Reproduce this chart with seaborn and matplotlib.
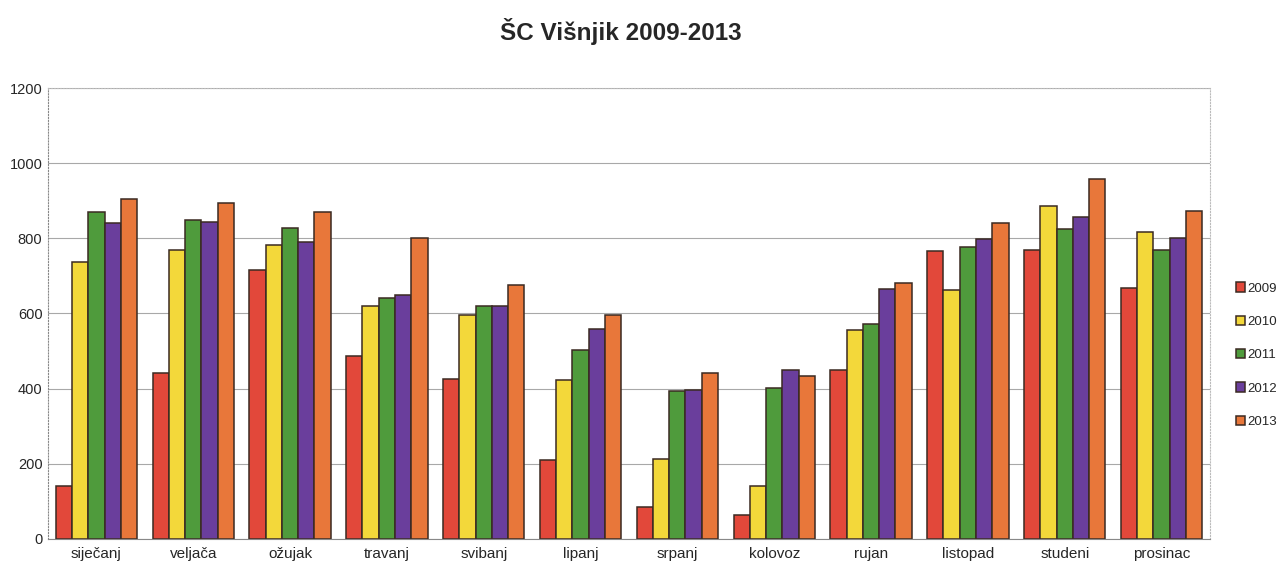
import matplotlib
matplotlib.use("Agg")
import matplotlib.pyplot as plt
import seaborn as sns
import pandas as pd

months = ["siječanj", "veljača", "ožujak", "travanj", "svibanj", "lipanj",
          "srpanj", "kolovoz", "rujan", "listopad", "studeni", "prosinac"]
years = ["2009", "2010", "2011", "2012", "2013"]
v2009 = [140, 442, 717, 487, 425, 210, 85, 65, 450, 765, 768, 668]
v2010 = [738, 770, 782, 620, 597, 422, 212, 140, 557, 662, 885, 817]
v2011 = [870, 848, 828, 640, 620, 503, 393, 403, 572, 776, 826, 768]
v2012 = [842, 843, 790, 648, 620, 560, 397, 449, 664, 798, 857, 800]
v2013 = [905, 895, 870, 800, 675, 596, 442, 435, 680, 840, 957, 872]
yticks = [0, 200, 400, 600, 800, 1000, 1200]
colors = ["#E2483A", "#F3D83A", "#4F9B3C", "#6A3E9C", "#E8773A"]

rows = []
for y, vals in zip(years, [v2009, v2010, v2011, v2012, v2013]):
    for m, v in zip(months, vals):
        rows.append({"month": m, "year": y, "value": v})
df = pd.DataFrame(rows)

sns.set_theme(style="white")
plt.rcParams['font.family'] = ['Liberation Sans', 'DejaVu Sans']

fig = plt.figure(figsize=(12.79, 5.70), dpi=100)
ax = fig.add_axes([0.0375, 0.0544, 0.9085, 0.7912])
sns.barplot(data=df, x="month", y="value", hue="year", palette=colors,
            order=months, hue_order=years, width=0.84, ax=ax,
            edgecolor="#3a2a22", linewidth=1.1, saturation=1, errorbar=None)

ax.set_ylim(0, 1200)
ax.set_xlim(-0.5, 11.5)
ax.set_yticks(yticks)
ax.set_yticklabels([str(t) for t in yticks], fontsize=10.5)
ax.tick_params(axis='x', labelsize=11, length=0, pad=6)
ax.tick_params(axis='y', length=0, pad=4)
ax.set_xlabel("")
ax.set_ylabel("")
ax.yaxis.grid(True, color="#a8a8a8", linewidth=0.8)
ax.set_axisbelow(True)
for s in ["top", "right"]:
    ax.spines[s].set_color("#bbbbbb")
    ax.spines[s].set_linestyle(":")
    ax.spines[s].set_linewidth(0.8)
ax.spines["left"].set_color("#888888")
ax.spines["left"].set_linestyle(":")
ax.spines["left"].set_linewidth(0.8)
ax.spines["bottom"].set_color("#888888")
ax.spines["bottom"].set_linewidth(0.8)

handles, labels = ax.get_legend_handles_labels()
ax.legend(handles, labels, loc="center left", bbox_to_anchor=(0.962, 0.377),
          bbox_transform=fig.transFigure, frameon=False, fontsize=9.5,
          handlelength=0.7, handleheight=0.7, handletextpad=0.15,
          labelspacing=1.6, borderaxespad=0)

fig.text(0.485, 0.945, "ŠC Višnjik 2009-2013", fontsize=17.5, fontweight="bold",
         ha="center", va="center")

fig.savefig("out.png", dpi=100)
